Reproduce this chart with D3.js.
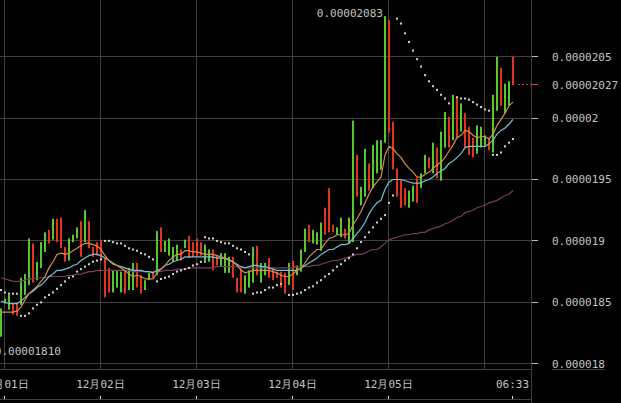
<!DOCTYPE html>
<html><head><meta charset="utf-8">
<script src="https://cdn.jsdelivr.net/npm/d3@7"></script>
<style>html,body{margin:0;padding:0;background:#000;overflow:hidden}</style>
</head><body><svg id="c" width="621" height="403"></svg>
<script>
// Prices are in units of 1e-8 (e.g. 2027 = 0.00002027). One candle per hour.
const candleHigh = [
1845,1853,1856,1849,1850,1870,1873,1902,1898,1883,
1899,1907,1909,1918,1918,1919,1895,1902,1905,1911,
1916,1925,1916,1895,1899,1901,1886,1878,1876,1876,
1875,1876,1878,1882,1882,1872,1868,1874,1874,1908,
1911,1900,1902,1895,1897,1893,1901,1904,1899,1902,
1899,1897,1893,1893,1888,1890,1890,1887,1887,1870,
1878,1872,1876,1895,1896,1882,1882,1886,1878,1875,
1875,1874,1882,1884,1880,1893,1910,1913,1909,1907,
1915,1927,1943,1913,1911,1919,1910,1919,1998,1970,
1944,1975,1963,1978,1982,1982,2083,2080,1997,1959,
1950,1943,1941,1945,1951,1955,1970,1968,1980,1976,
1989,2005,2001,2019,2017,2012,2004,1993,1984,1994,
1993,1986,1984,2019,2050,2041,2028,2030,2050];
const candleLow = [
1822,1849,1844,1840,1839,1848,1856,1864,1866,1868,
1878,1891,1898,1901,1899,1894,1883,1884,1899,1902,
1887,1899,1894,1887,1888,1884,1854,1858,1858,1862,
1858,1857,1860,1860,1862,1857,1860,1868,1870,1872,
1891,1891,1888,1883,1884,1884,1894,1886,1887,1888,
1888,1882,1883,1876,1880,1879,1874,1874,1870,1858,
1858,1857,1862,1866,1872,1866,1872,1870,1868,1870,
1862,1857,1864,1860,1872,1875,1891,1899,1898,1897,
1892,1905,1907,1907,1905,1903,1902,1898,1899,1936,
1929,1936,1941,1943,1955,1958,1980,1988,1958,1936,
1927,1929,1927,1932,1931,1943,1955,1959,1955,1951,
1949,1976,1976,1982,1984,1989,1976,1970,1968,1971,
1976,1978,1974,1972,2006,2010,2004,2010,2027];
// 1 = rising candle (green), 0 = falling candle (red)
const candleUp = [
1,1,1,0,0,1,1,1,0,1, 1,1,0,1,0,0,0,1,1,1, 0,1,0,0,0,0,0,0,1,1,
1,0,1,1,0,0,1,1,0,1, 0,1,1,1,1,0,1,0,0,0, 0,1,1,0,0,1,1,1,0,0,
0,1,1,1,0,1,1,0,0,0, 0,0,1,0,1,1,1,0,1,1, 1,0,0,0,1,1,0,1,1,0,
1,1,0,1,1,1,1,0,0,0, 0,0,1,1,0,1,1,0,1,0, 1,1,0,1,0,1,0,0,0,1,
1,1,0,1,1,0,1,1,0];
const maShort = [
1842,1842,1842,1842,1843,1846,1852,1857,1860,1863,
1867,1871,1878,1883,1889,1890,1889,1890,1892,1894,
1896,1898,1898,1897,1896,1893,1888,1884,1881,1880,
1878,1876,1873,1871,1872,1871,1869,1869,1869,1874,
1877,1880,1884,1887,1889,1889,1892,1892,1891,1891,
1890,1889,1889,1889,1888,1887,1886,1885,1883,1880,
1876,1874,1875,1876,1876,1876,1876,1876,1875,1874,
1872,1871,1871,1873,1876,1878,1882,1887,1890,1893,
1893,1898,1902,1903,1905,1905,1905,1906,1913,1918,
1924,1931,1938,1944,1948,1952,1970,1977,1975,1971,
1968,1963,1959,1956,1952,1952,1954,1956,1959,1962,
1964,1968,1973,1978,1984,1986,1990,1989,1986,1984,
1985,1985,1983,1987,1994,1999,2004,2010,2013];
const maMid = [
1851,1850,1849,1849,1849,1851,1854,1857,1859,1862,
1864,1867,1871,1873,1876,1876,1877,1878,1880,1881,
1884,1886,1888,1889,1889,1888,1886,1884,1882,1880,
1879,1878,1877,1876,1876,1876,1875,1875,1874,1876,
1877,1880,1881,1883,1884,1885,1887,1887,1887,1887,
1887,1887,1887,1887,1886,1886,1886,1884,1883,1881,
1879,1878,1879,1880,1880,1879,1879,1878,1877,1876,
1876,1876,1876,1876,1876,1878,1880,1882,1884,1886,
1889,1891,1893,1893,1895,1897,1897,1898,1902,1906,
1910,1915,1922,1927,1931,1933,1942,1948,1950,1950,
1950,1949,1948,1947,1947,1947,1949,1950,1952,1955,
1957,1959,1963,1965,1968,1971,1976,1977,1977,1977,
1977,1977,1979,1982,1987,1990,1992,1995,1999];
const maLong = [
1870,1869,1868,1867,1867,1867,1868,1869,1869,1870,
1870,1870,1871,1871,1871,1871,1871,1872,1872,1873,
1873,1874,1875,1875,1876,1876,1876,1876,1876,1876,
1876,1876,1876,1875,1875,1875,1875,1875,1875,1875,
1875,1876,1876,1876,1877,1877,1877,1878,1878,1878,
1878,1878,1878,1878,1879,1879,1879,1879,1879,1879,
1879,1878,1878,1878,1878,1878,1878,1878,1878,1878,
1878,1878,1878,1878,1879,1879,1879,1879,1880,1880,
1881,1882,1883,1884,1884,1885,1886,1887,1888,1889,
1889,1890,1892,1893,1893,1895,1898,1901,1902,1903,
1904,1905,1905,1906,1906,1907,1907,1909,1910,1911,
1912,1914,1915,1917,1919,1920,1923,1924,1925,1927,
1928,1929,1931,1932,1933,1935,1937,1938,1941];
const sar = [
1860,1858,1857,1857,1857,1839,1839,1841,1845,1848,
1850,1854,1856,1858,1861,1864,1867,1870,1871,1875,
1877,1879,1881,1883,1884,1885,1900,1900,1899,1898,
1898,1896,1894,1893,1892,1890,1889,1887,1885,1867,
1869,1870,1871,1873,1875,1876,1877,1878,1880,1881,
1883,1903,1902,1902,1900,1899,1898,1898,1896,1894,
1893,1891,1889,1857,1858,1858,1860,1862,1862,1864,
1865,null,1856,1856,1857,1858,1860,1862,1863,1866,
1868,1871,1873,1876,1879,1881,1884,1886,1889,1894,
1899,1903,1907,1911,1915,1918,1921,1931,1937,2081,
2077,2069,2062,2055,2048,2042,2035,2030,2026,2023,
2019,2016,2012,null,2017,2016,2016,2015,2013,2011,
2009,2007,2006,1970,1970,1972,1977,1980,1983];
const yTickValues = [2050, 2000, 1950, 1900, 1850, 1800];
const yTickLabels = ["0.0000205","0.00002","0.0000195","0.000019","0.0000185","0.000018"];
const dayGridIndex = [1, 25, 49, 73, 97, 121];
const xLabelIndex = [1, 25, 49, 73, 97, 128];
const xLabels = ["12月01日","12月02日","12月03日","12月04日","12月05日","06:33"];
const lastPrice = 2027, lastPriceLabel = "0.00002027";
const maxIndex = 96, maxLabel = "0.00002083";
const minLabel = "0.00001810", minValue = 1810;

const W = 621, H = 403, plotRight = 531, plotBottom = 369;
const FONT = "'DejaVu Sans Mono', monospace";
const TXT = "#c4c4c4", GRID = "#404040";
const svg = d3.select("#c");
svg.append("rect").attr("width", W).attr("height", H).attr("fill", "#000");

const n = candleHigh.length;
const x = d3.scaleLinear().domain([0, n - 1]).range([1, 513]);
const y = d3.scaleLinear().domain([1800, 2050]).range([363.7, 56.7]);
const px = v => Math.floor(v) + 0.5;

const g = svg.append("g");
// horizontal grid + y ticks
g.selectAll(".hg").data(yTickValues).join("line")
  .attr("x1", 0).attr("x2", plotRight).attr("y1", d => px(y(d))).attr("y2", d => px(y(d)))
  .attr("stroke", GRID).attr("stroke-width", 1);
g.selectAll(".yt").data(yTickValues).join("line")
  .attr("x1", plotRight).attr("x2", plotRight + 7).attr("y1", d => px(y(d))).attr("y2", d => px(y(d)))
  .attr("stroke", "#bbb").attr("stroke-width", 1);
g.selectAll(".yl").data(yTickValues).join("text")
  .attr("x", 552).attr("y", d => y(d)).attr("dy", "0.35em")
  .attr("fill", TXT).attr("font-family", FONT).attr("font-size", 11)
  .text((d, i) => yTickLabels[i]);
// vertical grid
g.selectAll(".vg").data(dayGridIndex).join("line")
  .attr("x1", d => Math.floor(x(d)) - 0.5).attr("x2", d => Math.floor(x(d)) - 0.5)
  .attr("y1", 0).attr("y2", plotBottom)
  .attr("stroke", GRID);
// frame lines
g.append("line").attr("x1", 0).attr("x2", plotRight).attr("y1", plotBottom + 0.5).attr("y2", plotBottom + 0.5).attr("stroke", GRID);
g.append("line").attr("x1", 552).attr("x2", 605).attr("y1", plotBottom + 0.5).attr("y2", plotBottom + 0.5).attr("stroke", GRID);
g.append("line").attr("x1", 0).attr("x2", plotRight).attr("y1", 399.5).attr("y2", 399.5).attr("stroke", GRID);
g.append("line").attr("x1", plotRight + 0.5).attr("x2", plotRight + 0.5).attr("y1", 0).attr("y2", H).attr("stroke", GRID);
// x labels and ticks
g.selectAll(".xl").data(xLabelIndex).join("text")
  .attr("x", d => Math.floor(x(d)) - 0.5).attr("y", 384).attr("dy", "0.35em")
  .attr("text-anchor", "middle").attr("fill", TXT).attr("font-family", FONT).attr("font-size", 11)
  .text((d, i) => xLabels[i]);
g.selectAll(".xt").data(xLabelIndex).join("line")
  .attr("x1", d => Math.floor(x(d)) - 0.5).attr("x2", d => Math.floor(x(d)) - 0.5)
  .attr("y1", 396).attr("y2", 399).attr("stroke", "#ddd");

// candles
const GREEN = "#56c92a", RED = "#e3331f";
svg.append("g").selectAll("rect").data(d3.range(n)).join("rect")
  .attr("x", i => x(i) - 1).attr("width", 2)
  .attr("y", i => y(candleHigh[i]))
  .attr("height", i => Math.max(1, y(candleLow[i]) - y(candleHigh[i])))
  .attr("fill", i => candleUp[i] ? GREEN : RED);

// moving averages
const line = d3.line().defined(d => d != null).x((d, i) => x(i)).y(d => y(d));
[[maLong, "#7e3b5e"], [maMid, "#6fc4d6"], [maShort, "#d98d44"]].forEach(([arr, c]) => {
  svg.append("path").attr("d", line(arr)).attr("fill", "none").attr("stroke", c).attr("stroke-width", 1.2);
});

// parabolic SAR
svg.append("g").selectAll("rect").data(d3.range(n).filter(i => sar[i] != null)).join("rect")
  .attr("x", i => x(i) - 1).attr("y", i => y(sar[i]) - 1).attr("width", 2).attr("height", 2)
  .attr("fill", "#cfcfcf");

// max / min annotations
svg.append("text").attr("x", x(maxIndex) - 2).attr("y", y(candleHigh[maxIndex])).attr("dy", "0.1em")
  .attr("text-anchor", "end").attr("fill", TXT).attr("font-family", FONT).attr("font-size", 11).text(maxLabel);
svg.append("text").attr("x", 61).attr("y", y(minValue)).attr("dy", "0.35em")
  .attr("text-anchor", "end").attr("fill", TXT).attr("font-family", FONT).attr("font-size", 11).text(minLabel);

// last price marker
const ly = px(y(lastPrice));
svg.append("line").attr("x1", x(n - 1) + 5).attr("x2", plotRight).attr("y1", ly).attr("y2", ly)
  .attr("stroke", RED).attr("stroke-dasharray", "2,2");
svg.append("line").attr("x1", plotRight).attr("x2", plotRight + 7).attr("y1", ly).attr("y2", ly).attr("stroke", RED);
svg.append("text").attr("x", 552).attr("y", y(lastPrice)).attr("dy", "0.35em")
  .attr("fill", TXT).attr("font-family", FONT).attr("font-size", 11).text(lastPriceLabel);
</script></body></html>
